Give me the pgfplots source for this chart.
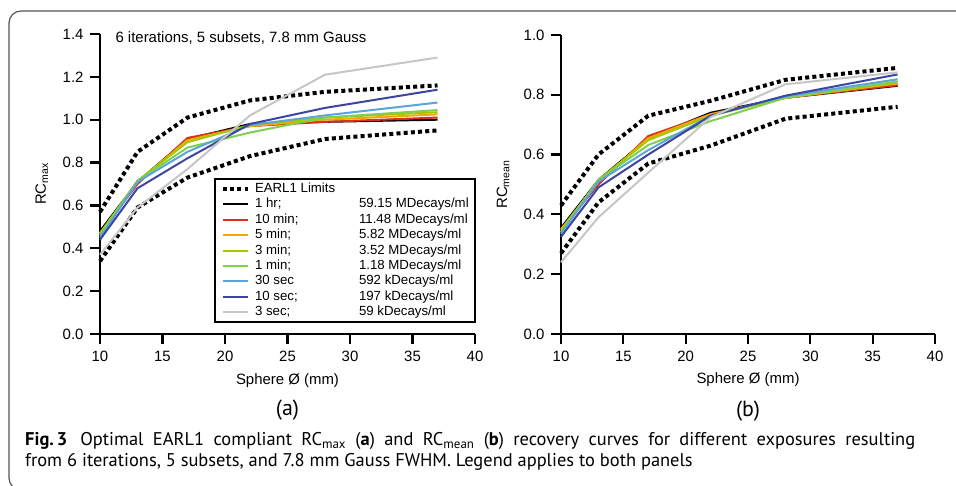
\documentclass[border=0pt]{standalone}
\usepackage{pgfplots}
\usepackage{pgfplotstable}
\pgfplotsset{compat=1.18}
\usepackage{fontspec}
\setmainfont{Liberation Sans}
\newfontfamily\capfont{PT Sans}

\definecolor{framegray}{HTML}{555555}
\definecolor{c10min}{HTML}{D7301F}
\definecolor{c5min}{HTML}{F5A700}
\definecolor{c3min}{HTML}{A6C800}
\definecolor{c1min}{HTML}{7FD04E}
\definecolor{c30s}{HTML}{5AA6DA}
\definecolor{c10s}{HTML}{3C46A2}
\definecolor{c3s}{HTML}{C6C6C6}

% Recovery coefficients per sphere diameter (mm)
\pgfplotstableread{
d  upper lower hr1   m10   m5    m3    m1    s30   s10   s3
10 0.57  0.34  0.48  0.47  0.47  0.468 0.46  0.45  0.44  0.37
13 0.85  0.59  0.71  0.70  0.71  0.715 0.715 0.71  0.68  0.59
17 1.01  0.73  0.91  0.915 0.905 0.895 0.87  0.85  0.82  0.77
22 1.09  0.83  0.98  0.97  0.97  0.975 0.94  0.975 0.98  1.02
28 1.13  0.91  0.99  0.99  1.00  1.01  1.01  1.02  1.055 1.21
37 1.16  0.95  1.00  1.01  1.025 1.035 1.045 1.08  1.14  1.29
}\rcmax

\pgfplotstableread{
d  upper lower hr1   m10   m5    m3    m1    s30   s10   s3
10 0.43  0.27  0.355 0.35  0.35  0.345 0.34  0.335 0.325 0.24
13 0.60  0.44  0.515 0.50  0.51  0.515 0.515 0.51  0.49  0.39
17 0.73  0.57  0.655 0.662 0.655 0.648 0.632 0.615 0.60  0.54
22 0.78  0.63  0.74  0.735 0.735 0.73  0.712 0.73  0.73  0.725
28 0.85  0.72  0.79  0.79  0.79  0.79  0.79  0.795 0.797 0.835
37 0.89  0.76  0.83  0.832 0.838 0.842 0.845 0.852 0.868 0.875
}\rcmean

\pgfplotsset{
  rcaxis/.style={
    scale only axis,
    axis lines=left,
    axis line style={-, line width=2.2bp, black},
    xmin=10, xmax=40,
    xtick={10,15,20,25,30,35,40},
    tick align=outside,
    major tick length=10bp,
    every tick/.style={line width=2.2bp, black},
    tick label style={font=\fontsize{15}{18}\selectfont},
    xticklabel style={yshift=-4bp},
    yticklabel style={xshift=-3bp},
    label style={font=\fontsize{15}{18}\selectfont},
    /pgf/number format/assume math mode=true,
    yticklabel style={/pgf/number format/.cd, fixed, fixed zerofill, precision=1},
    clip=false,
  },
  limit/.style={black, line width=4bp, dash pattern=on 4bp off 3.2bp},
  curve/.style={line width=2bp},
}

\begin{document}
\begin{tikzpicture}[x=1bp,y=1bp]
\useasboundingbox (0,0) rectangle (956,486);
\begin{scope}
  \clip (0,0) rectangle (956,486);
  \draw[line width=1.2bp, framegray, rounded corners=12bp] (9,-4) rectangle (990,475);
\end{scope}

% (a) maximum recovery coefficient
\begin{axis}[rcaxis,
  at={(100bp,152bp)}, anchor=south west,
  width=375bp, height=300bp,
  ymin=0, ymax=1.4,
  ytick={0,0.2,0.4,0.6,0.8,1.0,1.2,1.4},
  ylabel={RC\textsubscript{max}},
  ylabel style={at={(axis description cs:-0.155,0.5)}, anchor=center},
  xlabel={Sphere Ø (mm)},
  xlabel style={at={(axis description cs:0.5,-0.1667)}, anchor=base},
  legend cell align=left,
  legend image code/.code={\draw[#1] (0bp,0bp) -- (25bp,0bp);},
  legend style={at={(axis description cs:0.304,0.52)}, anchor=north west,
    draw=black, line width=2bp, inner xsep=6bp, inner ysep=3.5bp,
    row sep=2.4bp, font=\fontsize{13.3}{15}\selectfont,
    nodes={inner xsep=0pt, inner ysep=0pt, text height=10bp, text depth=3bp},
    /tikz/every odd column/.style={column sep=5bp}},
]
\addplot[limit] table[x=d, y=upper] {\rcmax};
\addlegendentry{EARL1 Limits}
\addplot[limit, forget plot] table[x=d, y=lower] {\rcmax};
\addplot[curve, black]   table[x=d, y=hr1] {\rcmax};
\addlegendentry{\makebox[104bp][l]{1 hr;}59.15 MDecays/ml}
\addplot[curve, c10min]  table[x=d, y=m10] {\rcmax};
\addlegendentry{\makebox[104bp][l]{10 min;}11.48 MDecays/ml}
\addplot[curve, c5min]   table[x=d, y=m5]  {\rcmax};
\addlegendentry{\makebox[104bp][l]{5 min;}5.82 MDecays/ml}
\addplot[curve, c3min]   table[x=d, y=m3]  {\rcmax};
\addlegendentry{\makebox[104bp][l]{3 min;}3.52 MDecays/ml}
\addplot[curve, c1min]   table[x=d, y=m1]  {\rcmax};
\addlegendentry{\makebox[104bp][l]{1 min;}1.18 MDecays/ml}
\addplot[curve, c30s]    table[x=d, y=s30] {\rcmax};
\addlegendentry{\makebox[104bp][l]{30 sec}592 kDecays/ml}
\addplot[curve, c10s]    table[x=d, y=s10] {\rcmax};
\addlegendentry{\makebox[104bp][l]{10 sec;}197 kDecays/ml}
\addplot[curve, c3s]     table[x=d, y=s3]  {\rcmax};
\addlegendentry{\makebox[104bp][l]{3 sec;}59 kDecays/ml}
\node[anchor=base west, font=\fontsize{15}{18}\selectfont]
  at (axis cs:10.96,1.358) {6 iterations, 5 subsets, 7.8 mm Gauss};
\node[anchor=base, font=\capfont\fontsize{22}{24}\selectfont]
  at (axis description cs:0.5,-0.273) {(a)};
\end{axis}

% (b) mean recovery coefficient
\begin{axis}[rcaxis,
  at={(561bp,152bp)}, anchor=south west,
  width=374bp, height=299bp,
  ymin=0, ymax=1.0,
  ytick={0,0.2,0.4,0.6,0.8,1.0},
  ylabel={RC\textsubscript{mean}},
  ylabel style={at={(axis description cs:-0.155,0.5)}, anchor=center},
  xlabel={Sphere Ø (mm)},
  xlabel style={at={(axis description cs:0.5,-0.167)}, anchor=base},
]
\addplot[limit] table[x=d, y=upper] {\rcmean};
\addplot[limit] table[x=d, y=lower] {\rcmean};
\addplot[curve, black]   table[x=d, y=hr1] {\rcmean};
\addplot[curve, c10min]  table[x=d, y=m10] {\rcmean};
\addplot[curve, c5min]   table[x=d, y=m5]  {\rcmean};
\addplot[curve, c3min]   table[x=d, y=m3]  {\rcmean};
\addplot[curve, c1min]   table[x=d, y=m1]  {\rcmean};
\addplot[curve, c30s]    table[x=d, y=s30] {\rcmean};
\addplot[curve, c10s]    table[x=d, y=s10] {\rcmean};
\addplot[curve, c3s]     table[x=d, y=s3]  {\rcmean};
\node[anchor=base, font=\capfont\fontsize{22}{24}\selectfont]
  at (axis description cs:0.5,-0.275) {(b)};
\end{axis}

% caption (first line justified to the full width)
\node[anchor=base west, font=\capfont\fontsize{18.5}{21}\selectfont, inner sep=0pt]
  at (25,40) {\makebox[890bp][s]{\mbox{\textbf{Fig.\,3}}\hspace{0.7em}Optimal EARL1 compliant RC\textsubscript{max} (\textbf{a}) and RC\textsubscript{mean} (\textbf{b}) recovery curves for different exposures resulting}};
\node[anchor=base west, font=\capfont\fontsize{18.5}{21}\selectfont, inner sep=0pt]
  at (25,19) {from 6 iterations, 5 subsets, and 7.8 mm Gauss FWHM. Legend applies to both panels};
\end{tikzpicture}
\end{document}
